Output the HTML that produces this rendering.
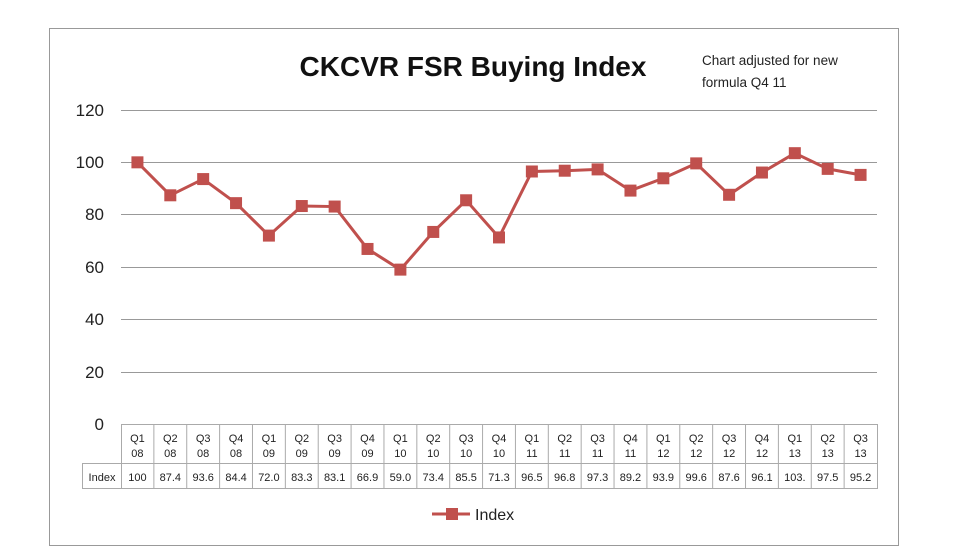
<!DOCTYPE html>
<html><head><meta charset="utf-8"><style>
body{margin:0;background:#fff;width:980px;height:552px;overflow:hidden;font-family:"Liberation Sans","DejaVu Sans",sans-serif}
</style></head><body>
<svg width="980" height="552" xmlns="http://www.w3.org/2000/svg" font-family="Liberation Sans, DejaVu Sans, sans-serif">
<rect x="49.5" y="28.5" width="849" height="517" fill="#fff" stroke="#999" stroke-width="1"/>
<text x="473" y="76" font-size="28" font-weight="bold" text-anchor="middle" fill="#111">CKCVR FSR Buying Index</text>
<text x="702" y="65" font-size="13.5" fill="#222">Chart adjusted for new</text>
<text x="702" y="87" font-size="13.5" fill="#222">formula  Q4 11</text>
<g stroke="#999" stroke-width="1">
<line x1="121" y1="110.5" x2="877" y2="110.5"/>
<line x1="121" y1="162.5" x2="877" y2="162.5"/>
<line x1="121" y1="214.5" x2="877" y2="214.5"/>
<line x1="121" y1="267.5" x2="877" y2="267.5"/>
<line x1="121" y1="319.5" x2="877" y2="319.5"/>
<line x1="121" y1="372.5" x2="877" y2="372.5"/>
</g>
<g font-size="17" fill="#222" text-anchor="end">
<text x="104" y="116">120</text><text x="104" y="168">100</text><text x="104" y="220">80</text>
<text x="104" y="273">60</text><text x="104" y="325">40</text><text x="104" y="378">20</text><text x="104" y="430">0</text>
</g>
<g id="tbl" stroke="#aaa" fill="none" stroke-width="1">
<rect x="121.5" y="424.5" width="756" height="64"/>
<rect x="82.5" y="463.5" width="39" height="25"/>
<line x1="121" y1="463.5" x2="877" y2="463.5"/>
</g>
<g id="cols"></g>
<text x="102" y="481" font-size="11" text-anchor="middle" fill="#222">Index</text>
<polyline id="ln" fill="none" stroke="#c0504d" stroke-width="3"/>
<g id="mk" fill="#c0504d"></g>
<line x1="432" y1="514" x2="470" y2="514" stroke="#c0504d" stroke-width="3"/>
<rect x="446" y="508" width="12" height="12" fill="#c0504d"/>
<text x="475" y="520" font-size="16" fill="#222">Index</text>
</svg>
<script>
var v=[100,87.4,93.6,84.4,72.0,83.3,83.1,66.9,59.0,73.4,85.5,71.3,96.5,96.8,97.3,89.2,93.9,99.6,87.6,96.1,103.5,97.5,95.2];
var lab=["100","87.4","93.6","84.4","72.0","83.3","83.1","66.9","59.0","73.4","85.5","71.3","96.5","96.8","97.3","89.2","93.9","99.6","87.6","96.1","103.","97.5","95.2"];
var q=["Q1 08","Q2 08","Q3 08","Q4 08","Q1 09","Q2 09","Q3 09","Q4 09","Q1 10","Q2 10","Q3 10","Q4 10","Q1 11","Q2 11","Q3 11","Q4 11","Q1 12","Q2 12","Q3 12","Q4 12","Q1 13","Q2 13","Q3 13"];
var ns="http://www.w3.org/2000/svg",w=756/23,x0=121,s="",cols=document.getElementById("cols"),mk=document.getElementById("mk");
function el(t,a,p,txt){var e=document.createElementNS(ns,t);for(var k in a)e.setAttribute(k,a[k]);if(txt)e.textContent=txt;p.appendChild(e);return e;}
for(var i=0;i<23;i++){var cx=x0+w*i+w/2,y=424-v[i]*314/120;s+=cx+","+y+" ";
if(i>0)el("line",{x1:x0+w*i,y1:424,x2:x0+w*i,y2:488,stroke:"#aaa"},cols);
var p=q[i].split(" ");
el("text",{x:cx,y:442,"font-size":11,"text-anchor":"middle",fill:"#222"},cols,p[0]);
el("text",{x:cx,y:457,"font-size":11,"text-anchor":"middle",fill:"#222"},cols,p[1]);
el("text",{x:cx,y:481,"font-size":11,"text-anchor":"middle",fill:"#222"},cols,lab[i]);
el("rect",{x:cx-6,y:y-6,width:12,height:12},mk);}
document.getElementById("ln").setAttribute("points",s);
</script>
</body></html>
